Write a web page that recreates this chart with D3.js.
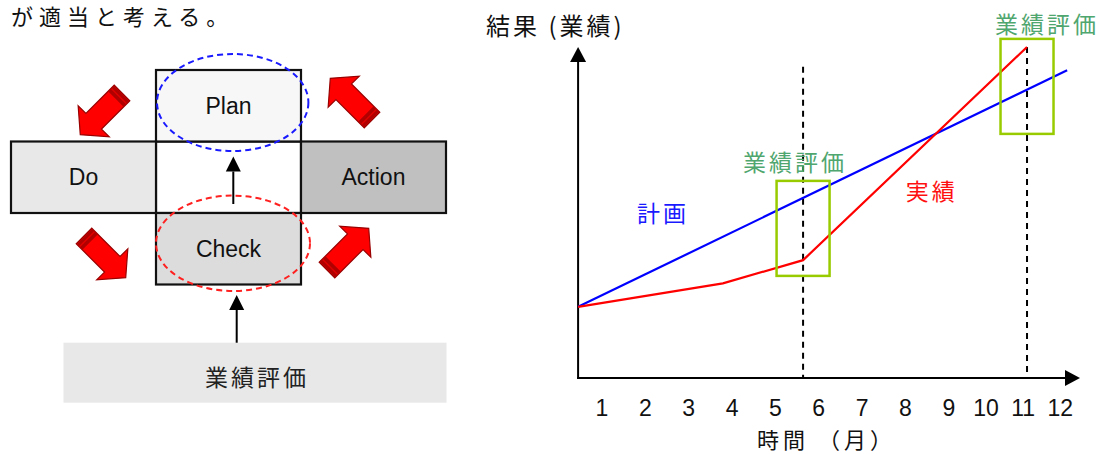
<!DOCTYPE html>
<html>
<head>
<meta charset="utf-8">
<script src="https://cdn.jsdelivr.net/npm/d3@7"></script>
<style>
  body { margin: 0; background: #fff; }
  svg { display: block; }
</style>
</head>
<body>
<svg id="chart" width="1101" height="454"></svg>
<script>
// ---- data ----
const months = [1, 2, 3, 4, 5, 6, 7, 8, 9, 10, 11, 12];
const monthLabels = ["1", "2", "3", "4", "5", "6", "7", "8", "9", "10", "11", "12"];

// 計画 (plan): straight line
const planMonths = [0.46, 12.2];
const planValues = [21.5, 93.0];

// 実績 (actual)
const actualMonths = [0.46, 3.8, 5.65, 11.12];
const actualValues = [21.5, 28.6, 35.6, 100];

// 業績評価 (evaluation) points
const evalMonths = [5.65, 11.12];
const evalCenterValues = [45.2, 88.1];
const evalLineTops = [94, 100];

// PDCA cycle
const phaseNames = ["Plan", "Do", "Action", "Check"];
const introText = "が適当と考える。";
const evalText = "業績評価";

const svg = d3.select("#chart");
const CJK = "'Noto Sans CJK JP', 'Noto Sans', sans-serif";
const LATIN = "'Liberation Sans', Arial, sans-serif";

svg.append("text")
  .attr("x", 11).attr("y", 25)
  .attr("font-family", CJK).attr("font-size", 22)
  .attr("letter-spacing", 6)
  .attr("fill", "#111")
  .text(introText);

// ================= PDCA diagram =================
const left = svg.append("g");
const col = d3.scaleBand().domain([0, 1, 2]).range([11, 446]).paddingInner(0);
const row = d3.scaleBand().domain([0, 1, 2]).range([70, 284.5]).paddingInner(0);

const cellOf = { Plan: [1, 0], Do: [0, 1], Action: [2, 1], Check: [1, 2] };
const fillOf = { Plan: "#f7f7f7", Do: "#e8e8e8", Action: "#c0c0c0", Check: "#dcdcdc" };

// centre cell
left.append("rect")
  .attr("x", col(1)).attr("y", row(1))
  .attr("width", col.bandwidth()).attr("height", row.bandwidth())
  .attr("fill", "#fff").attr("stroke", "#111").attr("stroke-width", 2.2);

left.selectAll("rect.phase").data(phaseNames).join("rect")
  .attr("class", "phase")
  .attr("x", d => col(cellOf[d][0]))
  .attr("y", d => row(cellOf[d][1]))
  .attr("width", col.bandwidth()).attr("height", row.bandwidth())
  .attr("fill", d => fillOf[d])
  .attr("stroke", "#111").attr("stroke-width", 2.2);

// dashed ellipses round Plan and Check
left.append("ellipse")
  .attr("cx", 232.7).attr("cy", 102.5).attr("rx", 75.7).attr("ry", 48.5)
  .attr("fill", "none").attr("stroke", "#1a1aff").attr("stroke-width", 2)
  .attr("stroke-dasharray", "6,4");
left.append("ellipse")
  .attr("cx", 233).attr("cy", 243.3).attr("rx", 77).attr("ry", 47.7)
  .attr("fill", "none").attr("stroke", "#ff2020").attr("stroke-width", 2)
  .attr("stroke-dasharray", "6,4");

left.selectAll("text.phase").data(phaseNames).join("text")
  .attr("class", "phase")
  .attr("x", d => col(cellOf[d][0]) + col.bandwidth() / 2)
  .attr("y", d => row(cellOf[d][1]) + row.bandwidth() / 2 + 8)
  .attr("text-anchor", "middle")
  .attr("font-family", LATIN).attr("font-size", 23)
  .attr("fill", "#111")
  .text(d => d);

// simple up arrows
function upArrow(g, x, y0, y1, head) {
  g.append("line").attr("x1", x).attr("x2", x).attr("y1", y0).attr("y2", y1 + head)
    .attr("stroke", "#000").attr("stroke-width", 2);
  g.append("path")
    .attr("d", `M${x},${y1} L${x - head / 2},${y1 + head} L${x + head / 2},${y1 + head} Z`)
    .attr("fill", "#000");
}
upArrow(left, 233.3, 204, 156.5, 15);
upArrow(left, 236.7, 343, 295, 15);

// evaluation box under the cycle
left.append("rect")
  .attr("x", 63.5).attr("y", 342.7).attr("width", 383).attr("height", 60)
  .attr("fill", "#e8e8e8");
left.append("text")
  .attr("x", 257).attr("y", 386)
  .attr("text-anchor", "middle")
  .attr("font-family", CJK).attr("font-size", 23).attr("letter-spacing", 3)
  .attr("fill", "#222")
  .text(evalText);

// thick red block arrows between phases
const blockArrows = [
  { x: 122, y: 93, angle: 135 },
  { x: 372, y: 120, angle: -135 },
  { x: 84, y: 236, angle: 45 },
  { x: 327, y: 270, angle: -45 }
];
const L = 59, headLen = 19, shaftHW = 11, headHW = 22;
const arrowPath = `M0,${-shaftHW} L${L - headLen},${-shaftHW} L${L - headLen},${-headHW} L${L},0 ` +
  `L${L - headLen},${headHW} L${L - headLen},${shaftHW} L0,${shaftHW} Z`;
const ba = left.selectAll("g.block").data(blockArrows).join("g")
  .attr("class", "block")
  .attr("transform", d => `translate(${d.x},${d.y}) rotate(${d.angle})`);
ba.append("path").attr("d", arrowPath)
  .attr("fill", "#ff0000").attr("stroke", "#990000").attr("stroke-width", 1.2)
  .attr("stroke-linejoin", "miter");
ba.append("rect").attr("x", 0.6).attr("y", -shaftHW + 0.6).attr("width", 8).attr("height", 2 * shaftHW - 1.2)
  .attr("fill", "#b00000");
ba.append("rect").attr("x", 3.6).attr("y", -shaftHW + 0.6).attr("width", 1.4).attr("height", 2 * shaftHW - 1.2)
  .attr("fill", "#e00000");

// ================= plan vs actual chart =================
const x = d3.scaleLinear().domain([1, 9, 12]).range([601.5, 948.3, 1059.7]);
const y = d3.scaleLinear().domain([0, 100]).range([378, 47]);

const chart = svg.append("g");
const x0 = x(planMonths[0]);
const y0 = y(0);

// axes with arrow heads
chart.append("line").attr("x1", x0).attr("x2", x0).attr("y1", y0 + 1).attr("y2", y(100) + 14)
  .attr("stroke", "#000").attr("stroke-width", 2);
chart.append("path")
  .attr("d", `M${x0},${y(100)} L${x0 - 8},${y(100) + 15} L${x0 + 8},${y(100) + 15} Z`)
  .attr("fill", "#000");
const xEnd = 1080;
chart.append("line").attr("x1", x0 - 1).attr("x2", xEnd - 14).attr("y1", y0).attr("y2", y0)
  .attr("stroke", "#000").attr("stroke-width", 2);
chart.append("path")
  .attr("d", `M${xEnd},${y0} L${xEnd - 15},${y0 - 8} L${xEnd - 15},${y0 + 8} Z`)
  .attr("fill", "#000");

const xAxis = d3.axisBottom(x).tickValues(months).tickSize(0).tickPadding(22)
  .tickFormat((d, i) => monthLabels[i]);
const gx = chart.append("g").attr("transform", `translate(0,${y0})`).call(xAxis);
gx.select(".domain").remove();
gx.selectAll("text").attr("font-family", LATIN).attr("font-size", 23).attr("fill", "#111");

// axis titles
chart.append("text")
  .attr("x", 486).attr("y", 35)
  .attr("font-family", CJK).attr("font-size", 24).attr("letter-spacing", 3)
  .attr("fill", "#111")
  .text("結果 (業績)");
chart.append("text")
  .attr("x", 757).attr("y", 448)
  .attr("font-family", CJK).attr("font-size", 22).attr("letter-spacing", 4)
  .attr("fill", "#111")
  .text("時間 （月）");

// evaluation dashed verticals
chart.selectAll("line.eval").data(evalMonths).join("line")
  .attr("class", "eval")
  .attr("x1", d => x(d)).attr("x2", d => x(d))
  .attr("y1", (d, i) => y(evalLineTops[i])).attr("y2", y0)
  .attr("stroke", "#000").attr("stroke-width", 2).attr("stroke-dasharray", "6,5");

// lines
const line = d3.line().x(d => x(d[0])).y(d => y(d[1]));
chart.append("path")
  .datum(planMonths.map((m, i) => [m, planValues[i]]))
  .attr("d", line).attr("fill", "none").attr("stroke", "#0000ff").attr("stroke-width", 2.2);
chart.append("path")
  .datum(actualMonths.map((m, i) => [m, actualValues[i]]))
  .attr("d", line).attr("fill", "none").attr("stroke", "#ff0000").attr("stroke-width", 2.2);

// evaluation boxes
const boxW = 53, boxH = 95;
chart.selectAll("rect.evalbox").data(evalMonths).join("rect")
  .attr("class", "evalbox")
  .attr("x", d => x(d) - boxW / 2)
  .attr("y", (d, i) => y(evalCenterValues[i]) - boxH / 2)
  .attr("width", boxW).attr("height", boxH)
  .attr("fill", "none").attr("stroke", "#99cc00").attr("stroke-width", 2.5);

const evalLabelDx = [-8, 20];
const evalLabelDy = [-10, -6];
chart.selectAll("text.evallabel").data(evalMonths).join("text")
  .attr("class", "evallabel")
  .attr("x", (d, i) => x(d) + evalLabelDx[i])
  .attr("y", (d, i) => y(evalCenterValues[i]) - boxH / 2 + evalLabelDy[i])
  .attr("text-anchor", "middle")
  .attr("font-family", CJK).attr("font-size", 23).attr("letter-spacing", 3)
  .attr("fill", "#4fa66e")
  .text(evalText);

// series labels
chart.append("text")
  .attr("x", x(2.42)).attr("y", y(47))
  .attr("text-anchor", "middle")
  .attr("font-family", CJK).attr("font-size", 23).attr("letter-spacing", 3)
  .attr("fill", "#1a1aff")
  .text("計画");
chart.append("text")
  .attr("x", x(8.62)).attr("y", y(53.8))
  .attr("text-anchor", "middle")
  .attr("font-family", CJK).attr("font-size", 23).attr("letter-spacing", 3)
  .attr("fill", "#ff1010")
  .text("実績");
</script>
</body>
</html>
